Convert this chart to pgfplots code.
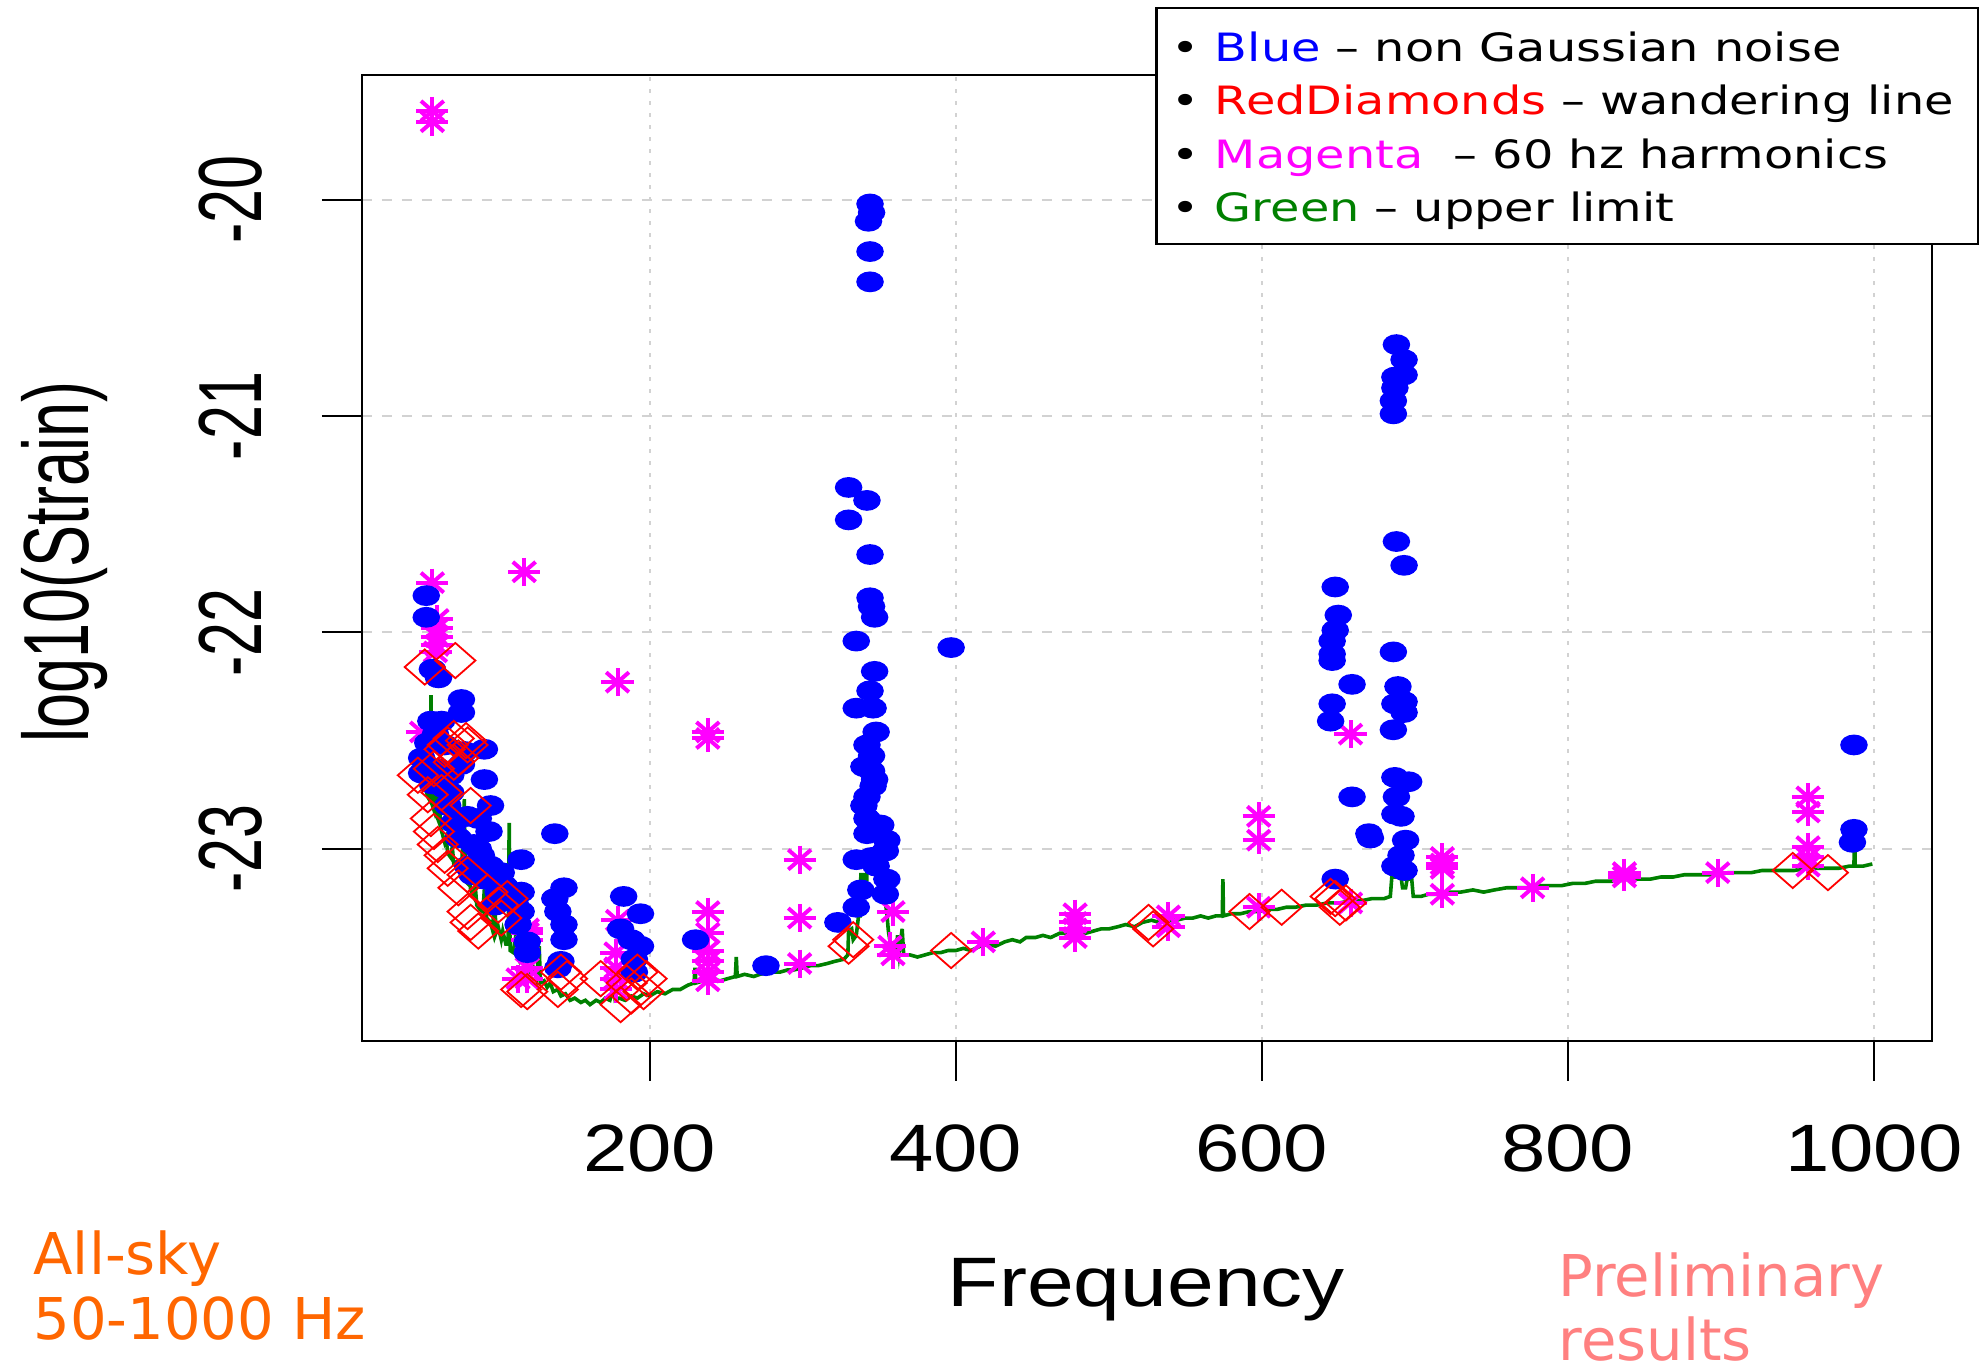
\documentclass[border=0pt]{standalone}
\usepackage{pgfplots}
\pgfplotsset{compat=1.18}
\usepackage{pgfplotstable}
\usepackage{graphicx}
\usepackage{fontspec}
\setmainfont{DejaVu Sans}
\newfontfamily\rfont{Liberation Sans}

\definecolor{rblue}{RGB}{0,0,255}
\definecolor{rred}{RGB}{255,0,0}
\definecolor{rmag}{RGB}{255,0,255}
\definecolor{rgreen}{RGB}{0,128,0}
\definecolor{allsky}{RGB}{255,102,0}
\definecolor{prelim}{RGB}{255,128,128}

% R output was stretched sideways
\newcommand\xtl[1]{\scalebox{1.19}[1]{#1}}
\newcommand\ytl[1]{\rotatebox{90}{\scalebox{1}[1.47]{#1}}}

\pgfplotstableread{
f s
54 -21.83
54 -21.93
58 -22.17
62 -22.21
77 -22.31
77 -22.37
57 -22.41
64 -22.41
60 -22.47
55 -22.51
66 -22.52
51 -22.58
92 -22.54
79 -22.55
77 -22.61
55 -22.62
51 -22.65
62 -22.63
70 -22.66
58 -22.70
66 -22.72
70 -22.74
92 -22.68
68 -22.80
96 -22.80
72 -22.88
81 -22.85
88 -22.86
95 -22.92
75 -22.95
85 -22.98
88 -23.00
138 -22.93
116 -23.05
90 -23.03
96 -23.08
103 -23.11
81 -23.08
84 -23.12
92 -23.14
105 -23.17
116 -23.20
108 -23.22
112 -23.25
116 -23.29
101 -23.20
99 -23.26
114 -23.35
120 -23.43
120 -23.48
144 -23.18
138 -23.23
140 -23.29
144 -23.35
144 -23.42
142 -23.52
140 -23.55
183 -23.22
194 -23.30
181 -23.37
188 -23.42
194 -23.45
190 -23.51
190 -23.57
230 -23.42
276 -23.54
344 -20.02
345 -20.06
343 -20.10
344 -20.24
344 -20.38
330 -21.33
342 -21.39
330 -21.48
344 -21.64
344 -21.84
345 -21.88
347 -21.93
335 -22.04
397 -22.07
347 -22.18
344 -22.27
335 -22.35
346 -22.35
348 -22.46
342 -22.52
345 -22.57
340 -22.62
345 -22.64
347 -22.68
346 -22.71
342 -22.76
340 -22.80
342 -22.86
351 -22.89
342 -22.93
355 -22.96
354 -23.01
345 -23.04
335 -23.05
348 -23.08
355 -23.14
338 -23.19
354 -23.21
335 -23.27
323 -23.34
688 -20.67
693 -20.74
693 -20.81
687 -20.82
687 -20.87
686 -20.93
686 -20.99
688 -21.58
693 -21.69
648 -21.79
650 -21.92
648 -21.99
646 -22.04
646 -22.10
646 -22.13
686 -22.09
659 -22.24
689 -22.25
693 -22.32
687 -22.33
693 -22.37
646 -22.33
645 -22.41
686 -22.45
659 -22.76
687 -22.67
696 -22.69
688 -22.76
687 -22.84
691 -22.85
671 -22.95
670 -22.93
694 -22.96
691 -23.03
687 -23.08
693 -23.10
648 -23.14
987 -22.52
987 -22.91
986 -22.97
}\bluedata

\pgfplotstableread{
f s
53 -22.16
73 -22.13
72 -22.49
66 -22.54
81 -22.52
75 -22.58
68 -22.52
80 -22.50
72 -22.60
48.5 -22.66
59 -22.63
55 -22.75
64 -22.74
83 -22.80
57 -22.86
59 -22.92
61.5 -22.98
66 -23.03
68 -23.09
75 -23.18
81 -23.12
94 -23.20
81 -23.29
83 -23.34
88 -23.38
101 -23.26
107 -23.23
103 -23.32
116 -23.65
120 -23.66
142 -23.57
140 -23.65
146 -23.60
185 -23.62
192 -23.57
198 -23.60
181 -23.72
196 -23.66
188 -23.68
168 -23.60
330 -23.45
333 -23.42
397 -23.47
526 -23.34
529 -23.37
592 -23.29
613 -23.27
645 -23.22
648 -23.23
651 -23.27
655 -23.25
947 -23.10
970 -23.11
}\reddata

\pgfplotstableread{
f s
58 -19.59
58 -19.64
58 -21.77
61 -21.94
61 -21.98
61 -22.02
61 -22.06
60 -22.09
51 -22.46
118 -21.72
179 -22.23
238 -22.46
238 -22.49
238 -23.29
238 -23.39
238 -23.47
238 -23.52
238 -23.57
238 -23.61
179 -23.33
178 -23.48
178 -23.55
178 -23.60
178 -23.65
120 -23.37
120 -23.39
120 -23.42
120 -23.55
120 -23.60
114 -23.60
298 -23.05
298 -23.32
298 -23.53
359 -23.29
357 -23.45
359 -23.49
418 -23.43
478 -23.30
478 -23.34
478 -23.37
478 -23.41
539 -23.31
539 -23.36
598 -22.85
598 -22.96
598 -23.27
658 -22.47
658 -23.25
718 -23.04
718 -23.07
718 -23.09
718 -23.21
777 -23.18
837 -23.11
837 -23.13
898 -23.11
957 -22.76
957 -22.83
957 -22.99
957 -23.04
957 -23.08
}\magdata

\pgfplotstableread{
f s
50.5 -22.70
52 -22.67
53.5 -22.72
55 -22.76
56.6 -22.78
57.1 -22.29
57.6 -22.79
59 -22.82
59.8 -22.74
60.4 -22.84
62 -22.87
62.6 -22.72
63.2 -22.90
64.5 -22.93
66 -22.97
67 -22.95
68 -23.02
70 -23.04
71 -22.99
72 -23.07
74 -23.06
75 -23.10
77 -23.12
78.9 -22.77
79.5 -23.15
81 -23.16
82 -23.12
83 -23.19
85 -23.22
86 -23.17
87 -23.26
89 -23.28
91 -23.29
92.5 -23.13
93.5 -23.32
96 -23.34
97.5 -23.38
98.5 -23.15
99.5 -23.39
101 -23.36
103 -23.42
104 -23.38
106 -23.44
107.5 -23.44
108.2 -22.88
108.9 -23.47
111 -23.48
112.5 -23.40
113.5 -23.50
115 -23.52
117 -23.50
119 -23.47
119.8 -23.55
122 -23.57
124 -23.55
126 -23.60
127.8 -23.45
128.6 -23.62
131 -23.61
133 -23.64
135 -23.62
137 -23.66
140 -23.65
142 -23.68
145 -23.67
148 -23.70
151 -23.69
155 -23.71
158 -23.70
161 -23.72
165 -23.70
168 -23.71
171 -23.69
174 -23.70
176.7 -23.63
177.5 -23.70
180 -23.69
184 -23.70
188 -23.68
192 -23.69
196 -23.67
200 -23.68
205 -23.66
210 -23.67
215 -23.65
220 -23.65
225 -23.63
229 -23.62
229.6 -23.55
230.3 -23.62
235 -23.61
240 -23.60
246 -23.61
251 -23.60
256 -23.59
256.6 -23.50
257.2 -23.59
262 -23.58
268 -23.59
272 -23.58
278 -23.57
285 -23.57
290 -23.56
294 -23.56
300 -23.55
305 -23.54
310 -23.54
316 -23.53
321 -23.52
327 -23.51
329.5 -23.49
330 -23.38
332 -23.37
333 -23.42
335 -23.40
336.5 -23.31
337.5 -23.31
338 -23.12
340 -23.12
340.5 -23.22
341.5 -23.22
342 -23.11
348 -23.11
349.6 -23.02
350.5 -23.10
352 -23.12
353.5 -23.22
355 -23.30
356 -23.38
358 -23.47
361 -23.47
362 -23.40
363 -23.48
365 -23.37
366 -23.49
370 -23.49
375 -23.50
380 -23.49
385 -23.48
390 -23.48
395 -23.47
400 -23.47
405 -23.46
410 -23.47
416 -23.45
421 -23.44
426 -23.45
432 -23.43
437 -23.42
442 -23.43
446 -23.41
452 -23.41
457 -23.40
462 -23.41
468 -23.39
473 -23.39
479 -23.38
485 -23.39
490 -23.38
495 -23.37
500 -23.37
506 -23.36
511 -23.35
517 -23.36
522 -23.34
528 -23.33
533 -23.34
539 -23.33
544 -23.33
550 -23.32
555 -23.32
560 -23.31
565 -23.32
570 -23.31
574.2 -23.31
574.6 -23.14
575.0 -23.31
580 -23.30
586 -23.30
592 -23.29
598 -23.29
604 -23.28
610 -23.28
616 -23.27
622 -23.27
629 -23.26
636 -23.26
643 -23.25
651 -23.25
658 -23.24
665 -23.24
672 -23.23
680 -23.23
684 -23.22
685 -23.13
691 -23.13
692 -23.18
694 -23.18
695 -23.14
698 -23.14
699 -23.22
704 -23.22
709 -23.21
716 -23.21
723 -23.20
730 -23.20
738 -23.19
745 -23.20
752 -23.19
760 -23.18
767 -23.18
774 -23.18
782 -23.17
789 -23.17
796 -23.17
803 -23.16
811 -23.16
818 -23.15
825 -23.15
832 -23.15
840 -23.14
847 -23.14
854 -23.14
861 -23.13
869 -23.13
876 -23.12
883 -23.12
890 -23.12
898 -23.12
905 -23.11
912 -23.11
920 -23.11
927 -23.10
934 -23.10
941 -23.10
948 -23.10
956 -23.09
963 -23.09
970 -23.09
977 -23.09
984 -23.08
987 -23.08
987.4 -22.88
987.8 -23.08
993 -23.08
999 -23.07
}\greendata

\begin{document}
\begin{tikzpicture}
\useasboundingbox (-90.5pt,-81.75pt) rectangle (405.5pt,260.25pt);
\begin{axis}[
    scale only axis,
    width=392.5pt, height=241.5pt,
    xmin=12, xmax=1038,
    ymin=-23.888, ymax=-19.424,
    xtick={200,400,600,800,1000},
    xticklabels={\xtl{200},\xtl{400},\xtl{600},\xtl{800},\xtl{1000}},
    ytick={-23,-22,-21,-20},
    yticklabels={\ytl{-23},\ytl{-22},\ytl{-21},\ytl{-20}},
    xtick pos=left, ytick pos=left,
    tick align=outside,
    major tick length=10pt,
    tick style={black, line width=0.5pt},
    axis line style={line width=0.6pt},
    grid=major,
    x grid style={gray!35, line width=0.5pt, dash pattern=on 1pt off 2pt},
    y grid style={gray!35, line width=0.5pt, dash pattern=on 2.5pt off 2.5pt},
    xticklabel style={font=\rfont\fontsize{16.75pt}{18pt}\selectfont, anchor=base, yshift=-22.75pt},
    yticklabel style={font=\rfont\fontsize{15.25pt}{17pt}\selectfont, anchor=center, xshift=-22.9pt},
]
\addplot[only marks, color=rmag, mark=x, mark size=3.5pt,
    mark options={xscale=1.15, line width=1pt}] table {\magdata};
\addplot[only marks, color=rmag, mark=+, mark size=3.5pt,
    mark options={xscale=1.15, line width=1pt}] table {\magdata};
\addplot[only marks, color=rblue, mark=*, mark size=2.4pt,
    mark options={xscale=1.35}] table {\bluedata};
\addplot[only marks, color=rred, mark=diamond, mark size=4.4pt,
    mark options={xscale=1.52, line width=0.45pt}] table {\reddata};
\addplot[color=rgreen, line width=0.9pt, mark=none] table {\greendata};
\end{axis}

% axis titles
\node[font=\rfont\fontsize{17.5pt}{20pt}\selectfont, anchor=base]
    at (196.1pt,-66.5pt) {\scalebox{1.2}[1]{Frequency}};
\node[font=\rfont\fontsize{15.75pt}{18pt}\selectfont, anchor=center, inner sep=0pt]
    at (-74.4pt,119.75pt) {\ytl{log10(Strain)}};

% legend box
\filldraw[fill=white, draw=black, line width=0.6pt]
    (198.6pt,199.2pt) rectangle (404pt,258.2pt);
\begin{scope}[every node/.style={anchor=base west, inner sep=0pt,
    font=\fontsize{9.75pt}{11pt}\selectfont}]
\node at (202.2pt,244.8pt) {\scalebox{1.225}[1]{• \textcolor{rblue}{Blue} – non Gaussian noise}};
\node at (202.2pt,231.5pt) {\scalebox{1.225}[1]{• \textcolor{rred}{RedDiamonds} – wandering line}};
\node at (202.2pt,218.2pt) {\scalebox{1.225}[1]{• \textcolor{rmag}{Magenta}~ – 60 hz harmonics}};
\node at (202.2pt,204.8pt) {\scalebox{1.225}[1]{• \textcolor{rgreen}{Green} – upper limit}};
\end{scope}

% slide notes
\begin{scope}[every node/.style={anchor=base west, inner sep=0pt,
    font=\fontsize{14.4pt}{17pt}\selectfont}]
\node[text=allsky] at (-82.3pt,-58.5pt) {All-sky};
\node[text=allsky] at (-82.3pt,-74.75pt) {50-1000 Hz};
\node[text=prelim] at (299pt,-63.9pt) {Preliminary};
\node[text=prelim] at (299pt,-79.8pt) {results};
\end{scope}
\end{tikzpicture}
\end{document}
